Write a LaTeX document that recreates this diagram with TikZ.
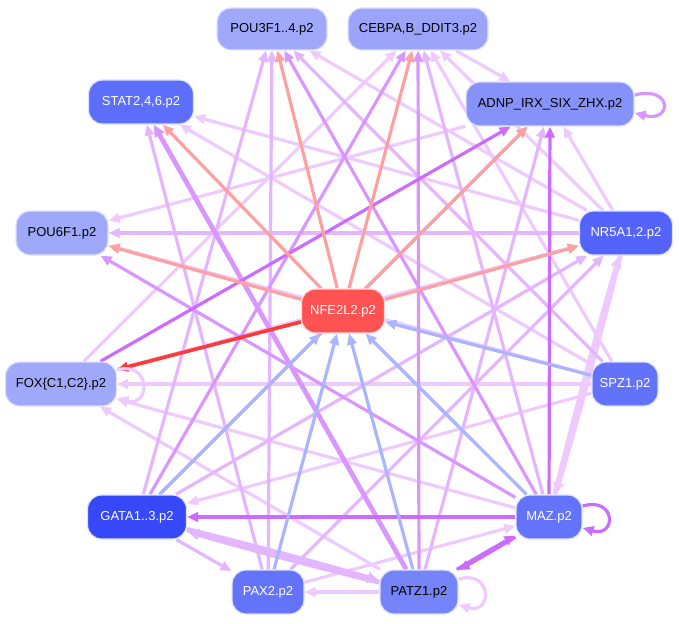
\documentclass[tikz,border=0pt]{standalone}
\usepackage{fontspec}
\setmainfont{Liberation Sans}
\usetikzlibrary{arrows.meta,backgrounds}
\definecolor{bord}{RGB}{222,226,255}
\definecolor{clav}{RGB}{238,202,255}
\definecolor{clavm}{RGB}{228,182,255}
\definecolor{cpurp}{RGB}{218,150,255}
\definecolor{cpurpS}{RGB}{204,108,255}
\definecolor{csalm}{RGB}{255,160,160}
\definecolor{cred}{RGB}{255,56,56}
\definecolor{cblue}{RGB}{170,180,255}
\definecolor{fP}{RGB}{160,168,250}
\definecolor{fCE}{RGB}{156,164,250}
\definecolor{fAD}{RGB}{134,146,250}
\definecolor{fST}{RGB}{92,110,250}
\definecolor{fNR}{RGB}{84,100,250}
\definecolor{fNF}{RGB}{255,82,82}
\definecolor{fSP}{RGB}{98,114,250}
\definecolor{fGA}{RGB}{54,72,248}
\definecolor{fMZ}{RGB}{100,116,250}
\definecolor{fPX}{RGB}{100,116,250}
\definecolor{fPT}{RGB}{118,132,250}
\begin{document}
\begin{tikzpicture}[x=1pt,y=-1pt,
  nd/.style 2 args={rectangle, rounded corners=14pt, draw=bord, line width=1.2pt,
    inner sep=0pt, minimum width=#1, minimum height=#2,
    font=\fontsize{13}{15}\selectfont},
  e/.style={line width=3.2pt, -{Triangle[length=11pt,width=9.5pt]}},
  lav/.style={e, draw=clav},
  lavm/.style={e, draw=clavm},
  purp/.style={e, draw=cpurp},
  purpS/.style={e, draw=cpurpS},
  salm/.style={e, draw=csalm},
  redE/.style={e, draw=cred, line width=3.6pt},
  blueE/.style={e, draw=cblue},
  thick/.style={line width=4.8pt, -{Triangle[length=12pt,width=10.5pt]}}
]
\useasboundingbox (0,0) rectangle (679,623);

\node[nd={110pt}{42pt}, fill=fP] (P3) at (272,29) {POU3F1..4.p2};
\node[nd={140pt}{42pt}, fill=fCE] (CE) at (418,29) {CEBPA,B\_DDIT3.p2};
\node[nd={105pt}{44pt}, fill=fST, text=white] (ST) at (141,102) {STAT2,4,6.p2};
\node[nd={168pt}{44pt}, fill=fAD] (AD) at (550,104) {ADNP\_IRX\_SIX\_ZHX.p2};
\node[nd={92pt}{44pt}, fill=fP] (P6) at (62,233) {POU6F1.p2};
\node[nd={93pt}{44pt}, fill=fNR, text=white] (NR) at (626,233) {NR5A1,2.p2};
\node[nd={83pt}{44pt}, fill=fNF, text=white, draw=white!85!red] (NF) at (343,311) {NFE2L2.p2};
\node[nd={111pt}{44pt}, fill=fP] (FX) at (61,384) {FOX\{C1,C2\}.p2};
\node[nd={66pt}{44pt}, fill=fSP, text=white] (SP) at (625,384) {SPZ1.p2};
\node[nd={99pt}{44pt}, fill=fGA, text=white] (GA) at (137,517) {GATA1..3.p2};
\node[nd={66pt}{44pt}, fill=fMZ, text=white] (MZ) at (549,517) {MAZ.p2};
\node[nd={72pt}{44pt}, fill=fPX, text=white] (PX) at (268,592) {PAX2.p2};
\node[nd={78pt}{44pt}, fill=fPT] (PT) at (419,592) {PATZ1.p2};

\begin{scope}[on background layer]
% light lavender edges
\draw[lav] (CE) -- (AD);
\draw[lav] (PT) -- (PX);
\draw[lav] (PX) -- (MZ);
\draw[lav] (NR) -- (P3);
\draw[lav] (FX) -- (CE);
\draw[lav] (SP) -- (CE);
\draw[lav] (NR) -- (CE);
\draw[lav] (NR) -- (AD);
\draw[lav] (AD) -- (P6);
\draw[lav] (SP) -- (P6);
\draw[lav] (SP) -- (FX);
\draw[lav] (MZ) -- (FX);
\draw[lav] (PT) -- (FX);
\draw[lav] (SP) -- (GA);
\draw[lav] (NR) -- (ST);
\draw[lav] (SP) -- (ST);
\draw[lav] (FX) -- (NR);
\draw[lav, thick] (MZ) to[bend left=1] (NR);
\draw[lav, thick] (NR) to[bend left=1] (MZ);
% medium lavender
\draw[lavm] (GA) -- (PX);
\draw[lavm] (GA) -- (P3);
\draw[lavm] (PX) -- (P3);
\draw[lavm] (SP) -- (P3);
\draw[lavm] (MZ) -- (CE);
\draw[lavm] (PT) -- (AD);
\draw[lavm] (NR) -- (P6);
\draw[lavm] (PX) -- (ST);
\draw[lavm] (PX) -- (NR);
\draw[lavm] (GA) -- (NR);
\draw[lavm, thick] (GA) to[bend left=1] (PT);
\draw[lavm, thick] (PT) to[bend left=1] (GA);
% purple
\draw[purp] (MZ) -- (P3);
\draw[purp] (GA) -- (CE);
\draw[purp] (GA) -- (AD);
\draw[purp] (MZ) -- (P6);
\draw[purp, thick] (PT) -- (ST);
\draw[purp] (PT) -- (CE);
% strong purple
\draw[purpS] (MZ) -- (GA);
\draw[purpS] (MZ) -- (AD);
\draw[purpS] (FX) -- (AD);
\draw[purpS] (MZ) to[bend left=1] (PT);
\draw[purpS] (PT) to[bend left=1] (MZ);
% from NFE2L2
\draw[salm] (NF) -- (P3);
\draw[salm] (NF) -- (CE);
\draw[salm] (NF) -- (ST);
\draw[salm] (NF) -- (AD);
\draw[salm] (NF) -- (P6);
\draw[salm] (NF) -- (NR);
\draw[redE] (NF) -- (FX);
% into NFE2L2
\draw[blueE] (GA) -- (NF);
\draw[blueE] (PX) -- (NF);
\draw[blueE] (PT) -- (NF);
\draw[blueE] (MZ) -- (NF);
\draw[blueE] (SP) -- (NF);
% self loops
\draw[purp] (AD.6) .. controls +(38,-10) and +(38,10) .. (AD.-6);
\draw[purpS] (MZ.18) .. controls +(34,-10) and +(34,10) .. (MZ.-18);
\draw[lav] (PT.18) .. controls +(34,-10) and +(34,10) .. (PT.-18);
\draw[lav] (FX.14) .. controls +(34,-10) and +(34,10) .. (FX.-14);
\end{scope}
\end{tikzpicture}
\end{document}
